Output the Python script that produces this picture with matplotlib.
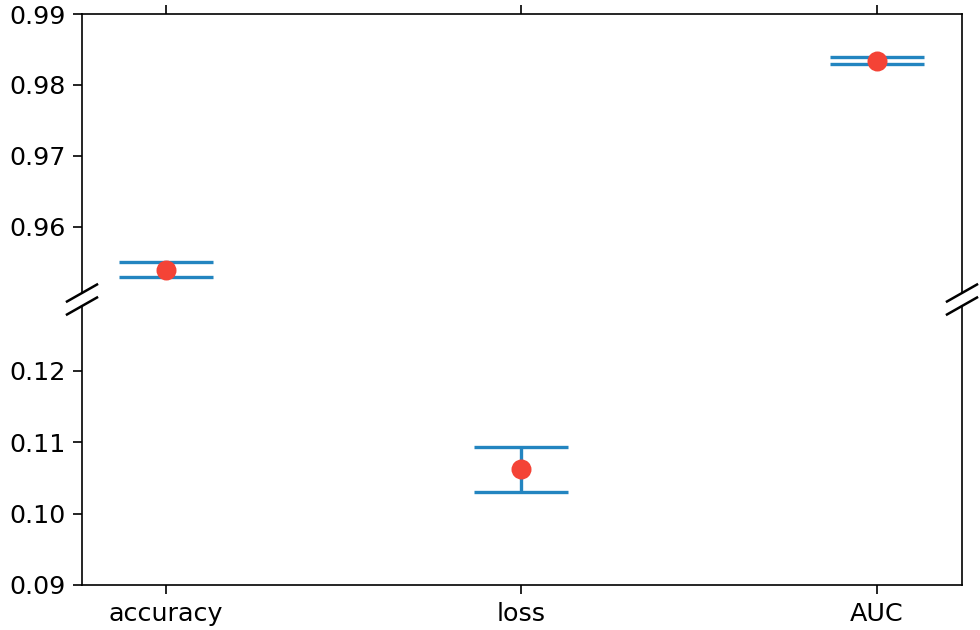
import matplotlib
matplotlib.use("Agg")
import matplotlib.pyplot as plt
import numpy as np

categories = ["accuracy", "loss", "AUC"]
means = [0.9540, 0.1062, 0.98345]
errors = [0.0011, 0.0031, 0.00045]
top_ticks = [0.96, 0.97, 0.98, 0.99]
bottom_ticks = [0.09, 0.10, 0.11, 0.12]

line_color = "#2385c0"
marker_color = "#f44336"

fig = plt.figure(figsize=(980 / 150, 630 / 150), dpi=150)
left, width = 82 / 980, 880 / 980
ax_top = fig.add_axes([left, 1 - 293 / 630, width, 279 / 630])
ax_bot = fig.add_axes([left, 1 - 585 / 630, width, 279 / 630])

x = np.arange(len(categories))
for ax in (ax_top, ax_bot):
    ax.errorbar(x, means, yerr=errors, fmt="none", ecolor=line_color,
                elinewidth=1.6, capsize=22.6, capthick=1.6, zorder=2)
    ax.plot(x, means, "o", color=marker_color, ms=8.6, zorder=3)
    ax.set_xlim(-0.235, 2.24)

ax_top.set_ylim(0.9507, 0.99)
ax_bot.set_ylim(0.09, 0.1291)
ax_top.set_yticks(top_ticks)
ax_bot.set_yticks(bottom_ticks)
ax_top.set_yticklabels([f"{v:.2f}" for v in top_ticks])
ax_bot.set_yticklabels([f"{v:.2f}" for v in bottom_ticks])

ax_top.spines["bottom"].set_visible(False)
ax_bot.spines["top"].set_visible(False)
ax_top.xaxis.tick_top()
ax_top.set_xticks(x)
ax_top.tick_params(labeltop=False)
ax_bot.xaxis.tick_bottom()
ax_bot.set_xticks(x)
ax_bot.set_xticklabels(categories)

for ax in (ax_top, ax_bot):
    ax.tick_params(labelsize=12.2, length=4.5)

dx, dy = 15 / 880, 8.5 / 279
kw = dict(color="k", clip_on=False, lw=1.2)
ax_top.plot((-dx, dx), (-dy, dy), transform=ax_top.transAxes, **kw)
ax_top.plot((1 - dx, 1 + dx), (-dy, dy), transform=ax_top.transAxes, **kw)
ax_bot.plot((-dx, dx), (1 - dy, 1 + dy), transform=ax_bot.transAxes, **kw)
ax_bot.plot((1 - dx, 1 + dx), (1 - dy, 1 + dy), transform=ax_bot.transAxes, **kw)

fig.savefig("out.png", dpi=150)
